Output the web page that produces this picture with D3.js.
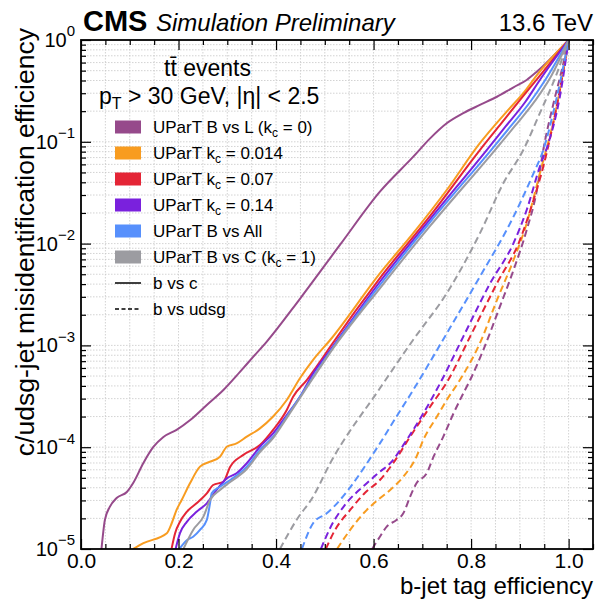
<!DOCTYPE html>
<html><head><meta charset="utf-8">
<script src="https://cdn.jsdelivr.net/npm/d3@7"></script>
<style>
body{margin:0;background:#fff}
svg{display:block}
text{font-family:"Liberation Sans",Arial,Helvetica,sans-serif;fill:#000}
</style>
</head><body>
<svg id="chart" width="596" height="601"></svg>
<script>
// ---------------- DATA ----------------
// [b-jet efficiency, misidentification efficiency]
// b vs c (solid)
const bvsL_c = [[0.042,1e-5],[0.049,1.93e-5],[0.059,2.59e-5],[0.073,3.17e-5],[0.094,3.63e-5],[0.107,4.45e-5],[0.128,7.0e-5],[0.148,1.0e-4],[0.169,1.26e-4],[0.196,1.48e-4],[0.224,1.85e-4],[0.258,2.6e-4],[0.292,3.65e-4],[0.326,5.5e-4],[0.353,7.7e-4],[0.381,1.09e-3],[0.449,2.87e-3],[0.531,9.7e-3],[0.613,3.24e-2],[0.681,7.1e-2],[0.716,0.108],[0.750,0.152],[0.784,0.191],[0.818,0.230],[0.853,0.277],[0.887,0.343],[0.914,0.405],[0.935,0.489],[1.0,1.0]];
const kc0014_c = [[0.107,1e-5],[0.128,1.14e-5],[0.176,1.43e-5],[0.186,1.79e-5],[0.196,2.42e-5],[0.2065,3.03e-5],[0.2235,4.42e-5],[0.244,6.44e-5],[0.2646,7.2e-5],[0.285,8.07e-5],[0.299,1.01e-4],[0.319,1.09e-4],[0.340,1.27e-4],[0.367,1.53e-4],[0.394,2.0e-4],[0.422,2.91e-4],[0.449,4.75e-4],[0.476,7.2e-4],[0.511,1.13e-3],[0.613,5.1e-3],[0.681,1.26e-2],[0.750,3.36e-2],[0.818,9.7e-2],[0.873,0.198],[0.907,0.30],[0.935,0.453],[1.0,1.0]];
const kc007_c = [[0.186,1.02e-5],[0.193,1.43e-5],[0.203,1.85e-5],[0.217,2.32e-5],[0.237,2.81e-5],[0.258,3.52e-5],[0.271,4.25e-5],[0.292,4.58e-5],[0.306,6.44e-5],[0.333,8.4e-5],[0.367,1.05e-4],[0.394,1.48e-4],[0.422,2.32e-4],[0.435,3.13e-4],[0.463,4.57e-4],[0.490,6.9e-4],[0.511,9.7e-4],[0.613,4.59e-3],[0.716,1.87e-2],[0.818,8.3e-2],[0.859,0.146],[0.900,0.257],[0.937,0.423],[1.0,1.0]];
const kc014_c = [[0.194,1e-5],[0.203,1.43e-5],[0.217,1.85e-5],[0.237,2.32e-5],[0.258,2.81e-5],[0.278,3.8e-5],[0.299,4.94e-5],[0.319,5.54e-5],[0.340,6.95e-5],[0.367,1.01e-4],[0.394,1.37e-4],[0.422,2.07e-4],[0.449,3.13e-4],[0.476,5.3e-4],[0.511,9.0e-4],[0.613,4.22e-3],[0.716,1.74e-2],[0.832,8.3e-2],[0.870,0.140],[0.911,0.246],[0.941,0.405],[1.0,1.0]];
const bvsAll_c = [[0.203,1.02e-5],[0.217,1.22e-5],[0.230,1.32e-5],[0.244,1.54e-5],[0.258,1.93e-5],[0.2646,2.81e-5],[0.268,3.52e-5],[0.285,4.09e-5],[0.306,4.76e-5],[0.340,6.44e-5],[0.367,9.4e-5],[0.394,1.27e-4],[0.422,2.0e-4],[0.449,3.13e-4],[0.476,4.93e-4],[0.511,8.7e-4],[0.613,3.92e-3],[0.716,1.63e-2],[0.841,8.3e-2],[0.880,0.140],[0.921,0.246],[0.952,0.405],[1.0,1.0]];
const bvsC_c = [[0.210,1e-5],[0.230,1.54e-5],[0.251,2.08e-5],[0.2646,3.03e-5],[0.285,3.8e-5],[0.306,4.55e-5],[0.340,6.1e-5],[0.367,8.97e-5],[0.394,1.23e-4],[0.422,1.94e-4],[0.449,3.04e-4],[0.476,4.79e-4],[0.511,8.5e-4],[0.613,3.64e-3],[0.716,1.49e-2],[0.849,8.3e-2],[0.890,0.143],[0.931,0.252],[0.962,0.423],[1.0,1.0]];
// b vs udsg (dashed)
const bvsL_l = [[0.597,1e-5],[0.613,1.32e-5],[0.627,1.66e-5],[0.647,1.93e-5],[0.661,2.24e-5],[0.675,3.27e-5],[0.688,4.42e-5],[0.709,5.54e-5],[0.723,8.07e-5],[0.743,1.27e-4],[0.764,2.15e-4],[0.784,3.38e-4],[0.798,4.57e-4],[0.825,9.0e-4],[0.859,2.4e-3],[0.887,5.5e-3],[0.914,1.36e-2],[0.935,3.36e-2],[0.948,8.3e-2],[0.969,0.239],[0.986,0.507],[1.0,1.0]];
const kc0014_l = [[0.525,1e-5],[0.552,1.54e-5],[0.582,2.31e-5],[0.613,3.15e-5],[0.634,3.8e-5],[0.661,5.13e-5],[0.688,8.07e-5],[0.702,1.18e-4],[0.730,2.0e-4],[0.750,2.91e-4],[0.777,4.57e-4],[0.818,1.05e-3],[0.853,2.79e-3],[0.887,6.9e-3],[0.914,1.58e-2],[0.941,4.9e-2],[0.974,0.205],[1.0,1.0]];
const kc007_l = [[0.502,1e-5],[0.521,1.54e-5],[0.552,2.42e-5],[0.582,3.55e-5],[0.613,4.76e-5],[0.640,6.95e-5],[0.675,1.27e-4],[0.716,2.5e-4],[0.753,4.57e-4],[0.798,1.22e-3],[0.853,4.07e-3],[0.900,1.08e-2],[0.928,2.68e-2],[0.948,5.7e-2],[0.974,0.205],[1.0,1.0]];
const kc014_l = [[0.492,1e-5],[0.511,1.61e-5],[0.541,2.7e-5],[0.582,4.25e-5],[0.613,5.74e-5],[0.634,6.95e-5],[0.668,1.18e-4],[0.702,2.15e-4],[0.740,4.57e-4],[0.784,1.22e-3],[0.839,4.07e-3],[0.887,1.01e-2],[0.914,2.14e-2],[0.941,5.7e-2],[0.958,9.5e-2],[0.982,0.277],[1.0,1.0]];
const bvsAll_l = [[0.453,1e-5],[0.476,1.79e-5],[0.504,2.24e-5],[0.613,1.09e-4],[0.647,2.0e-4],[0.675,3.26e-4],[0.750,1.31e-3],[0.818,4.73e-3],[0.887,1.84e-2],[0.928,4.9e-2],[0.948,8.3e-2],[0.976,0.277],[1.0,1.0]];
const bvsC_l = [[0.408,1e-5],[0.442,1.93e-5],[0.476,3.27e-5],[0.511,6.95e-5],[0.613,3.79e-4],[0.681,1.13e-3],[0.750,3.25e-3],[0.818,1.26e-2],[0.866,3.91e-2],[0.907,8.3e-2],[0.941,0.191],[0.976,0.471],[1.0,1.0]];

const seriesNames = ["UParT B vs L (k_c = 0)","UParT k_c = 0.014","UParT k_c = 0.07","UParT k_c = 0.14","UParT B vs All","UParT B vs C (k_c = 1)"];
const seriesColors = ["#964a8b","#f89c20","#e42536","#7a21dd","#5790fc","#9c9ca1"];
const curvesC = [bvsL_c,kc0014_c,kc007_c,kc014_c,bvsAll_c,bvsC_c];
const curvesL = [bvsL_l,kc0014_l,kc007_l,kc014_l,bvsAll_l,bvsC_l];

const xMajorTicks = [0.0,0.2,0.4,0.6,0.8,1.0];
const xTickLabels = ["0.0","0.2","0.4","0.6","0.8","1.0"];
const xMinorTicks = [0.05,0.1,0.15,0.25,0.3,0.35,0.45,0.5,0.55,0.65,0.7,0.75,0.85,0.9,0.95,1.05];
const yExponents = [0,-1,-2,-3,-4,-5];

// ---------------- LAYOUT ----------------
const W = 596, H = 601;
const m = {left:81, top:40, right:3, bottom:52};
const pw = W - m.left - m.right, ph = H - m.top - m.bottom;

const svg = d3.select("#chart");
const x = d3.scaleLinear().domain([0,1.05]).range([m.left, m.left+pw]);
const y = d3.scaleLog().domain([1e-5,1]).range([m.top+ph, m.top]);

const yMajor = yExponents.map(e => Math.pow(10,e));
const yMinor = [];
for (let e=-5; e<0; e++) for (let k=2; k<=9; k++) yMinor.push(k*Math.pow(10,e));

// grid
const grid = svg.append("g");
grid.selectAll("line.gx").data(xMinorTicks.concat(xMajorTicks).filter(v=>v>0 && v<1.05))
  .enter().append("line")
  .attr("x1",d=>x(d)).attr("x2",d=>x(d)).attr("y1",m.top).attr("y2",m.top+ph)
  .attr("stroke","#c8c8c8").attr("stroke-width",0.8).attr("stroke-dasharray","1.5,1.5");
grid.selectAll("line.gy").data(yMinor.concat(yMajor).filter(v=>v>1e-5 && v<1))
  .enter().append("line")
  .attr("y1",d=>y(d)).attr("y2",d=>y(d)).attr("x1",m.left).attr("x2",m.left+pw)
  .attr("stroke","#c8c8c8").attr("stroke-width",0.8).attr("stroke-dasharray","1.5,1.5");

// curves
svg.append("defs").append("clipPath").attr("id","clip")
  .append("rect").attr("x",m.left).attr("y",m.top).attr("width",pw).attr("height",ph);
const line = d3.line().x(d=>x(d[0])).y(d=>y(d[1])).curve(d3.curveMonotoneX);
const cg = svg.append("g").attr("clip-path","url(#clip)");
curvesL.forEach((c,i)=>{
  cg.append("path").datum(c).attr("d",line).attr("fill","none")
    .attr("stroke",seriesColors[i]).attr("stroke-width",2).attr("stroke-dasharray","7,4");
});
curvesC.forEach((c,i)=>{
  cg.append("path").datum(c).attr("d",line).attr("fill","none")
    .attr("stroke",seriesColors[i]).attr("stroke-width",2);
});

// axes (inward ticks on all sides)
function styleAxis(g){ g.select(".domain").remove(); g.selectAll("line").attr("stroke","#000").attr("stroke-width",1.2); }
svg.append("g").attr("transform",`translate(0,${m.top+ph})`)
  .call(d3.axisBottom(x).tickValues(xMajorTicks).tickSize(-10).tickPadding(4).tickFormat((d,i)=>xTickLabels[i]))
  .call(styleAxis)
  .call(g=>g.selectAll("text").attr("font-size",21).attr("font-family","Liberation Sans, Arial, sans-serif").attr("fill","#000"));
svg.append("g").attr("transform",`translate(0,${m.top+ph})`)
  .call(d3.axisBottom(x).tickValues(xMinorTicks).tickSize(-5).tickFormat("")).call(styleAxis);
svg.append("g").attr("transform",`translate(0,${m.top})`)
  .call(d3.axisTop(x).tickValues(xMajorTicks).tickSize(-10).tickFormat("")).call(styleAxis);
svg.append("g").attr("transform",`translate(0,${m.top})`)
  .call(d3.axisTop(x).tickValues(xMinorTicks).tickSize(-5).tickFormat("")).call(styleAxis);

const yl = svg.append("g").attr("transform",`translate(${m.left},0)`)
  .call(d3.axisLeft(y).tickValues(yMajor).tickSize(-10).tickFormat(""))
  .call(styleAxis);
yl.selectAll(".tick").each(function(d,i){
  const t = d3.select(this).append("text").attr("x",-6).attr("dy","0.32em")
    .attr("text-anchor","end").attr("font-size",20);
  t.append("tspan").text("10");
  const e = Math.round(Math.log10(d));
  t.append("tspan").attr("font-size",15).attr("dy","-0.7em").text(e<0 ? "\u2212"+(-e) : String(e));
});
svg.append("g").attr("transform",`translate(${m.left},0)`)
  .call(d3.axisLeft(y).tickValues(yMinor).tickSize(-5).tickFormat("")).call(styleAxis);
svg.append("g").attr("transform",`translate(${m.left+pw},0)`)
  .call(d3.axisRight(y).tickValues(yMajor).tickSize(-10).tickFormat("")).call(styleAxis);
svg.append("g").attr("transform",`translate(${m.left+pw},0)`)
  .call(d3.axisRight(y).tickValues(yMinor).tickSize(-5).tickFormat("")).call(styleAxis);

// frame
svg.append("rect").attr("x",m.left).attr("y",m.top).attr("width",pw).attr("height",ph)
  .attr("fill","none").attr("stroke","#000").attr("stroke-width",1.8);

// header
svg.append("text").attr("x",83).attr("y",31).attr("font-size",29).attr("font-weight","bold").text("CMS");
svg.append("text").attr("x",156).attr("y",31).attr("font-size",24).attr("font-style","italic").text("Simulation Preliminary");
svg.append("text").attr("x",593).attr("y",31).attr("font-size",24).attr("text-anchor","end").text("13.6 TeV");

// axis labels
svg.append("text").attr("x",593).attr("y",594).attr("font-size",24).attr("text-anchor","end").text("b-jet tag efficiency");
svg.append("text").attr("transform",`translate(34,28) rotate(-90)`).attr("font-size",26.5)
  .attr("text-anchor","end").text("c/udsg-jet misidentification efficiency");

// annotation
svg.append("text").attr("x",164).attr("y",76).attr("font-size",23).text("tt\u0304 events");
const pt = svg.append("text").attr("x",99).attr("y",104).attr("font-size",23);
pt.append("tspan").text("p");
pt.append("tspan").attr("font-size",16).attr("dy",5).text("T");
pt.append("tspan").attr("dy",-5).text(" > 30 GeV, |\u03b7| < 2.5");

// legend
const lg = svg.append("g");
const rowY = d => 127 + d*26;
function addLabel(t, s){
  const parts = s.split("k_c");
  parts.forEach((p,j)=>{
    if (j>0){
      t.append("tspan").text("k");
      t.append("tspan").attr("font-size",12).attr("dy",4).text("c");
      t.append("tspan").attr("dy",-4).text(p);
    } else t.append("tspan").text(p);
  });
}
seriesNames.forEach((s,i)=>{
  lg.append("rect").attr("x",115).attr("y",rowY(i)-6.5).attr("width",26).attr("height",13).attr("fill",seriesColors[i]);
  const t = lg.append("text").attr("x",153).attr("y",rowY(i)+6).attr("font-size",17);
  addLabel(t,s);
});
lg.append("line").attr("x1",115).attr("x2",141).attr("y1",rowY(6)).attr("y2",rowY(6)).attr("stroke","#000").attr("stroke-width",1.5);
lg.append("text").attr("x",153).attr("y",rowY(6)+6).attr("font-size",17).text("b vs c");
lg.append("line").attr("x1",115).attr("x2",141).attr("y1",rowY(7)).attr("y2",rowY(7)).attr("stroke","#000").attr("stroke-width",1.5).attr("stroke-dasharray","4,2.5");
lg.append("text").attr("x",153).attr("y",rowY(7)+6).attr("font-size",17).text("b vs udsg");
</script>
</body></html>
